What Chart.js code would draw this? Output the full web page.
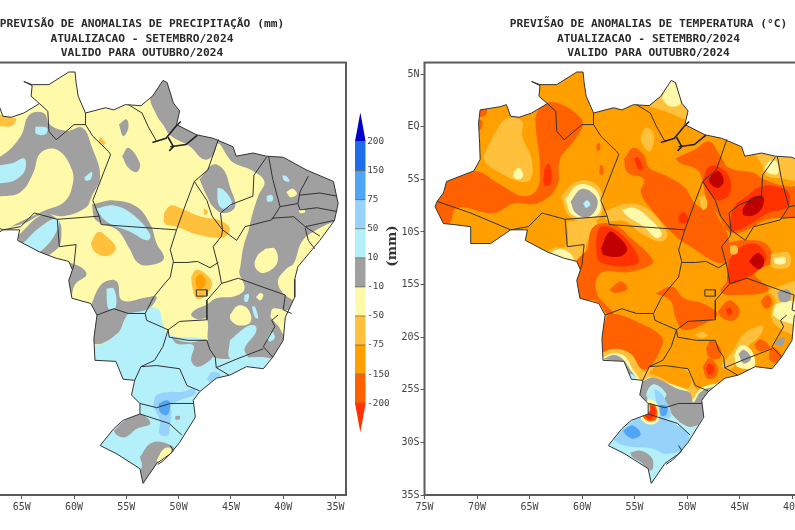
<!DOCTYPE html>
<html><head><meta charset="utf-8">
<script src="https://cdn.jsdelivr.net/npm/chart.js@4/dist/chart.umd.js"></script>
<style>
html,body{margin:0;padding:0;background:#fff;overflow:hidden;width:795px;height:530px}
canvas{position:absolute;filter:blur(0.55px)}
#wrap{position:absolute;left:0;top:0;width:795px;height:530px;overflow:hidden}
.box{position:absolute}
</style></head><body>
<div id="wrap">
<div class="box" style="left:-62px;top:0;width:412px;height:530px"><canvas id="cL"></canvas></div>
<div class="box" style="left:400px;top:0;width:497px;height:530px"><canvas id="cR"></canvas></div>
<div class="box" style="left:350px;top:100px;width:50px;height:345px"><canvas id="cB"></canvas></div>
</div>
<script>
// ---------- text ----------
const precipTitle = ['PREVISÃO DE ANOMALIAS DE PRECIPITAÇÃO (mm)','ATUALIZACAO - SETEMBRO/2024','VALIDO PARA OUTUBRO/2024'];
const tempTitle = ['PREVIS\u0303AO DE ANOMALIAS DE TEMPERATURA (°C)','ATUALIZACAO - SETEMBRO/2024','VALIDO PARA OUTUBRO/2024'];
const lonTicks = [-75,-70,-65,-60,-55,-50,-45,-40,-35];
const lonTickLabels = ['75W','70W','65W','60W','55W','50W','45W','40W','35W'];
const latTicks = [5,0,-5,-10,-15,-20,-25,-30,-35];
const latTickLabels = ['5N','EQ','5S','10S','15S','20S','25S','30S','35S'];
const barLevels = ['-200','-150','-75','-50','-10','10','50','75','150','200'];
const barUnit = '(mm)';

// ---------- palette ----------
const cBlue4='#1E6EEB',cBlue3='#50A5F5',cBlue2='#96D2FA',cBlue1='#B4F0FA',cGray='#A0A0A0',cYel='#FFFAAA',cLt='#FFC03C',cOr='#FFA000',cRed1='#FF6000',cRed2='#FF3200',cRed3='#E11400',cDark='#C00000',cNavy='#0000C8';
const barColors=[cRed2,cRed1,cOr,cLt,cYel,cGray,cBlue1,cBlue2,cBlue3,cBlue4];

// ---------- geography (lon, lat) ----------
const extent=[[-80,10],[-25,10],[-25,-40],[-80,-40]];
const brazil=[[-69.7,1.6],[-67.8,1.9],[-67.2,2.1],[-66.8,1],[-66,0.9],[-64.8,1.3],[-63.3,2.2],[-64.1,2.9],[-64,3.9],[-64.8,4.3],[-64,4],[-62.4,4],[-60.5,5.2],[-59.9,5.2],[-59.8,4.2],[-59.6,2.9],[-58.9,1.3],[-57,1.8],[-56.2,1.6],[-55.1,2.1],[-53.6,2],[-52.5,2.9],[-51.5,4.4],[-51.1,4.2],[-50.5,2.25],[-49.9,1.5],[-50.2,0.2],[-48.3,-0.76],[-46.7,-1.1],[-44.8,-1.9],[-44.5,-2.8],[-42.9,-2.5],[-41.6,-2.8],[-40,-2.9],[-37.8,-4.1],[-35.2,-5.2],[-34.75,-7.3],[-35.1,-8.9],[-36.5,-10.8],[-37.5,-12],[-38.6,-13.3],[-38.9,-14.5],[-38.9,-16.2],[-39.8,-18.1],[-40,-20.3],[-41,-21.9],[-41.9,-23],[-43.5,-22.8],[-45.1,-23.6],[-46.4,-23.9],[-48,-25.2],[-48.6,-26],[-48.4,-27.6],[-49.9,-30],[-50.8,-31.1],[-52.1,-32],[-53.4,-33.9],[-53.7,-32.5],[-55.9,-31.1],[-57.5,-30.3],[-56.2,-28.7],[-55.3,-27.9],[-53.7,-27.3],[-53.7,-26.3],[-54.5,-25.5],[-54.2,-24.1],[-55.3,-24],[-56,-22.3],[-58,-22.2],[-58.1,-20.1],[-57.8,-17.9],[-58.4,-16.8],[-60.2,-16.3],[-60.5,-14.6],[-60.15,-13.6],[-60.5,-12.8],[-61.7,-12.5],[-63.3,-11.9],[-65.4,-10.8],[-65.2,-9.8],[-66.8,-9.8],[-68.7,-11.1],[-70.6,-11.1],[-70.6,-9.5],[-72.2,-9.3],[-73.2,-9.2],[-74,-7.6],[-73.8,-7.1],[-73.2,-6.3],[-72.9,-5.2],[-70.3,-4.2],[-69.7,-3.1],[-69.75,-1.6],[-69.85,0.35]];
const lineRR=[[-63.3,2.2],[-62.5,1.46],[-62.4,-0.44],[-61.7,-1.24],[-60,0.2],[-58.9,0.2],[-58.9,1.3]];
const lineAMPA=[[-58.9,0.2],[-58.2,-0.9],[-56.7,-2.35],[-56.5,-2.65],[-58.2,-7],[-57.6,-8.5],[-57.4,-9.3],[-50.2,-9.8]];
const lineAMS=[[-57.6,-8.5],[-61.6,-8.8],[-63.8,-8.2],[-65.1,-9.5],[-66.8,-9.8],[-70.6,-8.2],[-73.8,-7.1]];
const lineROMT=[[-61.6,-8.8],[-61.4,-11.4],[-59.8,-11.2],[-60,-13.1],[-60.15,-13.6]];
const lineAPPA=[[-54.8,2.1],[-53.5,1.3],[-52.9,0],[-52.1,-1.4]];
const linePAMA=[[-50.2,-9.8],[-49.3,-7.3],[-48.5,-5.2],[-47.2,-4.1],[-46.2,-1.2]];
const lineMATO=[[-48.5,-5.2],[-47.3,-7],[-46.8,-8.5],[-45.8,-9.8],[-45.9,-10.4],[-46.7,-11.4],[-46.2,-13.3],[-45.9,-14.9],[-47.3,-16.5],[-47.3,-18.35]];
const lineMAPI=[[-45.8,-9.8],[-46,-8.2],[-45,-7.4],[-42.9,-6.6],[-42.8,-4.6],[-41.6,-2.9]];
const lineBAPI=[[-45.8,-9.8],[-44.45,-10.8],[-43.65,-9.5],[-41.1,-8.85],[-40.3,-7.6],[-41,-5],[-41.4,-2.8]];
const lineCE=[[-37.6,-4.7],[-38.4,-6.2],[-38.6,-7.3],[-40.3,-7.6]];
const lineRN=[[-38.4,-6.5],[-36.5,-6.3],[-34.85,-6.6]];
const linePB=[[-38.6,-7.3],[-38.4,-7.9],[-36.8,-7.7],[-34.85,-8.06]];
const linePE=[[-41.1,-8.7],[-39,-8.55],[-37.9,-9.5],[-36.5,-9.2],[-35.1,-8.9]];
const lineAL=[[-37.9,-9.5],[-36.5,-10.4]];
const lineSE=[[-37.9,-9.65],[-37.6,-10.8],[-37,-11.6]];
const lineTOMT=[[-50.2,-9.8],[-50.8,-11.7],[-50.5,-12.8],[-50.8,-14.3],[-51.45,-15.05],[-52.4,-16.2],[-53.2,-17.75],[-53.05,-18.4],[-51,-19.3]];
const lineMTMS=[[-57.8,-17.9],[-56.2,-17.3],[-54.8,-17.75],[-53.2,-17.75]];
const lineGOTO=[[-50.5,-12.9],[-49.2,-12.9],[-48.2,-12.8],[-47,-13.4],[-46.2,-12.9]];
const lineGOMG=[[-51,-19.3],[-49.9,-18.5],[-47.3,-18.35]];
const lineDF=[[-48.3,-15.5],[-47.3,-15.5],[-47.3,-16.1],[-48.3,-16.1],[-48.3,-15.5]];
const lineBAMG=[[-45.9,-14.9],[-44.3,-14.4],[-42.9,-14.9],[-39.8,-16],[-40,-17.4],[-39.2,-17.75]];
const lineMGES=[[-40.5,-17.9],[-41.1,-18.4],[-40.8,-19],[-41.9,-20.9],[-41,-21.9]];
const lineMGRJ=[[-41.9,-21.1],[-44.5,-22.1],[-46.4,-22.9],[-45.2,-23.6]];
const lineMGSP=[[-51,-19.3],[-50.9,-20],[-49.1,-20.3],[-47.3,-20.3],[-47,-21.2],[-46.5,-21.9],[-46.4,-22.9]];
const lineMSSP=[[-51,-19.3],[-51.5,-20.9],[-52.3,-22.2],[-53.6,-22.8],[-54.2,-24.1]];
const linePRSP=[[-53.6,-22.8],[-52.1,-22.7],[-49.9,-23],[-49.2,-24.6],[-48,-25.1]];
const linePRSC=[[-53.7,-26.3],[-52.1,-26.7],[-50.8,-26.3],[-48.6,-26.3]];
const lineSCRS=[[-53.7,-27.3],[-50.9,-28.2],[-49.7,-29.3]];
const lineEstuary1=[[-52.5,-1.5],[-51.2,-1.1],[-50.3,0],[-49.8,0.5]];
const lineEstuary2=[[-50.8,-1.9],[-49.3,-1.7],[-48.2,-0.8]];
const lineEstuary3=[[-51,-1],[-50.5,-1.9],[-50.9,-2.3]];
const lineLagoon=[[-50.8,-30.3],[-50.5,-30.8],[-51.4,-31.7],[-52,-32.1]];
const stateLines=[lineRR,lineAMPA,lineAMS,lineROMT,lineAPPA,linePAMA,lineMATO,lineMAPI,lineBAPI,lineCE,lineRN,linePB,linePE,lineAL,lineSE,lineTOMT,lineMTMS,lineGOTO,lineGOMG,lineDF,lineBAMG,lineMGES,lineMGRJ,lineMGSP,lineMSSP,linePRSP,linePRSC,lineSCRS,lineLagoon];
const coastDetail=[lineEstuary1,lineEstuary2,lineEstuary3];

// ---------- precipitation contours ----------
const pSouthBlue=[[-66,-21],[-58.4,-20.9],[-55.9,-19.7],[-55.1,-18.2],[-54.8,-17.4],[-53.7,-17.3],[-52.9,-17.1],[-51.9,-17.4],[-51.5,-18.7],[-50.8,-19.8],[-47.3,-20.3],[-46.7,-21.9],[-41.6,-21.9],[-41,-22.2],[-38,-24],[-38,-35],[-60,-35]];
const pGrayNorth=[[-51.5,6],[-52.7,2.9],[-52.1,1.1],[-51.5,0.2],[-50.8,-0.8],[-48.9,-1.9],[-47.6,-3.1],[-46.7,-2.7],[-46.2,-1.6],[-45.4,-2.7],[-44.8,-3.4],[-42.9,-4.2],[-41.8,-5.2],[-42.4,-6.6],[-43,-8.5],[-43.3,-9.8],[-43.8,-11.4],[-44.1,-13.3],[-44.2,-13.9],[-43.7,-15.4],[-44.6,-16.1],[-46.4,-16.3],[-47.3,-16.9],[-48.4,-17.4],[-48.8,-17.9],[-48.2,-18.3],[-47.3,-18.3],[-47.2,-20.3],[-46.7,-21.9],[-41,-22.1],[-41.5,-24],[-33,-24],[-33,6]];
const pGrayWest=[[-71,-4.5],[-67,-2.8],[-65.1,-0.9],[-64.3,1.1],[-62.9,1.3],[-62.3,0.2],[-60.7,-0.4],[-59.2,-0.1],[-58.3,-1.9],[-57.5,-4.7],[-58.3,-6.6],[-58.9,-7.7],[-61,-8.5],[-62.9,-8.3],[-65.1,-9.3],[-71,-10]];
const pYelWest=[[-73,-6.6],[-67,-6.6],[-65.1,-6.2],[-63.9,-4.4],[-63.2,-2.5],[-61.6,-2.2],[-60.2,-4.1],[-60.2,-5.8],[-61,-7.2],[-62.9,-8],[-65.1,-9],[-67,-9.9],[-73,-11]];
const pGrayLobe=[[-65.4,-10.4],[-62.9,-8.3],[-61.5,-8.9],[-61.2,-10.1],[-61.6,-11.6],[-63.6,-12.5],[-64.8,-11.9]];
const pGrayRO=[[-62.3,-12.7],[-59.9,-13.1],[-58.8,-14],[-59.9,-15],[-60.4,-16.3],[-61.5,-15]];
const pGrayArm=[[-58.3,-7.4],[-56.2,-7],[-54,-7.6],[-52.7,-9.3],[-52.1,-11.1],[-51.4,-12.5],[-52.4,-13.1],[-53.8,-13],[-54.8,-11.4],[-55.9,-9.8],[-57.9,-8.9]];
const pGrayMA=[[-48,-5],[-46.7,-3.6],[-45.7,-4.1],[-45.1,-5.7],[-44.6,-7.6],[-45.7,-8.2],[-46.7,-7.6],[-47.3,-6.6]];
const pGrayBlobA=[[-55.7,0.2],[-55,0.7],[-54.8,-0.1],[-55.3,-0.9]];
const pGrayBlobB=[[-55.4,-2.8],[-54.8,-2],[-53.7,-3.5],[-54,-4.3],[-54.8,-3.9]];
const pGrayMS=[[-58.3,-16.8],[-57.7,-15.4],[-57,-14.7],[-55.9,-14.7],[-55.4,-16.5],[-53,-16.2],[-52.1,-16.2],[-52.9,-17.3],[-54.8,-17.8],[-55.1,-18.2],[-55.9,-19.7],[-58.1,-20.6],[-59,-18]];
const pGraySP=[[-50.8,-19.7],[-50.5,-20.1],[-48.9,-20.5],[-47.2,-20.3],[-46.7,-21.7],[-47.4,-22.5],[-48.3,-22.8],[-48.8,-22.2],[-48.6,-20.8],[-50.2,-20.6]];
const pGrayRSW=[[-56.2,-28.9],[-55.1,-27.9],[-53.7,-27.3],[-52.7,-28.2],[-54,-28.7],[-55.1,-29.5],[-55.9,-29.3]];
const pGrayRSE=[[-53.7,-31.4],[-52.7,-30.1],[-51.4,-30],[-50.3,-30.8],[-51.4,-32.2],[-52.4,-32.7],[-53,-34],[-53.8,-33.3],[-53.5,-32.2]];
const pGrayDotA=[[-50.3,-27.5],[-49.9,-27.5],[-49.9,-27.8],[-50.3,-27.8]];
const pYelCoast=[[-35.2,-9],[-36.8,-9.8],[-38.2,-10.9],[-39,-13],[-39.7,-13.5],[-40.5,-14.7],[-39.8,-16],[-38.3,-16.6],[-36,-16],[-34,-9.5]];
const pYelES=[[-41.2,-17.9],[-41,-17.3],[-40,-17.4],[-39,-17.6],[-38.6,-18.7],[-39.8,-19.8],[-40.5,-18.9],[-41.2,-18.1]];
const pYelBA=[[-41.7,-11.6],[-40.8,-11.6],[-40.6,-13],[-41.9,-13.9],[-42.7,-13.3],[-42.5,-12.3]];
const pYelMG=[[-45.1,-17.9],[-44.3,-17],[-43.4,-17.3],[-43.1,-18.5],[-44.2,-18.9],[-45,-18.4]];
const pYelDotA=[[-42.6,-16.2],[-42.2,-15.8],[-41.9,-16],[-42.2,-16.5]];
const pYelDotB=[[-39.7,-6.2],[-39.1,-5.9],[-38.7,-6.4],[-39.3,-6.7]];
const pYelDotC=[[-38.5,-7.9],[-38.1,-7.8],[-37.9,-8.1],[-38.4,-8.2]];
const pYelLagoon=[[-52.1,-31.7],[-51.4,-30.6],[-50.7,-30.6],[-51,-31.4],[-51.8,-32]];
const pBlueW=[[-70,-4],[-66,-3.5],[-64.8,-3],[-64.6,-3.8],[-65.1,-4.7],[-66.4,-5.3],[-70,-5.3]];
const pBlueDotA=[[-63.7,0],[-62.6,-0.1],[-62.7,-0.7],[-63.6,-0.7]];
const pBlueDotB=[[-59,-4.8],[-58.3,-4.3],[-58.4,-5],[-58.9,-5.1]];
const pBlueLobe=[[-65,-11.2],[-63.2,-9.5],[-61.6,-8.7],[-61.6,-9.8],[-62.9,-11.6],[-64.2,-12.2]];
const pBlueArm=[[-57.9,-7.8],[-56.1,-7.5],[-54.3,-8.4],[-52.7,-10.3],[-53,-10.8],[-54.6,-10],[-56.9,-9]];
const pBlueMA=[[-46.3,-5.8],[-45.7,-6],[-44.9,-7.3],[-45.7,-7.8],[-46.2,-7.3]];
const pBlueDotC=[[-40.1,-4.6],[-39.7,-4.7],[-39.4,-5.2],[-39.9,-5.1]];
const pBlueDotD=[[-41.6,-6.6],[-41.1,-6.5],[-41,-7],[-41.5,-7.1]];
const pBlueDotE=[[-43.7,-16],[-43.3,-15.9],[-43.4,-16.6],[-43.7,-16.6]];
const pBlueDotF=[[-43,-17.1],[-42.7,-17.1],[-42.4,-18.2],[-42.7,-18.1]];
const pBlueDotG=[[-41.6,-20.2],[-41.1,-19.5],[-40.8,-20],[-41.2,-20.4]];
const pBlueTongue=[[-45.1,-20.3],[-43.5,-19],[-42.7,-18.9],[-42.6,-19.5],[-43.7,-21.1],[-43.4,-22],[-45.1,-22]];
const pBluePlume=[[-56.9,-15.4],[-56.2,-15.4],[-56,-17.1],[-56.7,-17.3]];
const pMidSouth=[[-52.4,-26.2],[-52.1,-25.5],[-50.8,-25.2],[-49.7,-25.2],[-48.6,-24.9],[-48.4,-25.4],[-49.9,-26],[-50.7,-26.5],[-50.7,-27.4],[-50.8,-28.2],[-51,-29.3],[-51.8,-29.2],[-51.8,-27.9],[-52.4,-26.6]];
const pMidSP=[[-47.3,-24],[-46.8,-23.3],[-46,-23.6],[-46.8,-24.3]];
const pDeepSouth=[[-51.9,-26.3],[-51.1,-26],[-50.8,-26.3],[-51.1,-27.4],[-51.8,-27.1]];
const pLtNW=[[-70,1.4],[-65.6,0.8],[-65.8,0.2],[-66.4,0],[-70,0.6]];
const pLtDot=[[-57.5,-0.9],[-57,-1.6],[-57.6,-1.6]];
const pLtBand=[[-51.4,-8.2],[-50.8,-7.5],[-49.9,-7.7],[-48,-8.5],[-46.1,-8.9],[-45.1,-9.7],[-45.7,-10.5],[-48,-10.3],[-50.2,-9.5],[-51.3,-9.2]];
const pLtDotB=[[-47.6,-7.7],[-47.2,-8.1],[-47.5,-8.4]];
const pLtMT=[[-58.4,-11.1],[-57.7,-10],[-56.7,-10.6],[-56,-11.6],[-56.9,-12.3],[-58,-11.9]];
const pLtGO=[[-48.8,-14.3],[-48.3,-13.6],[-47.3,-14.1],[-46.8,-15],[-47.6,-16.2],[-48.3,-16.3],[-48.7,-15.2]];
const pOrGO=[[-48.4,-14.4],[-47.9,-14],[-47.4,-14.7],[-47.8,-15.4],[-48.3,-15.2]];
const precipLayers=[[cYel,extent],[cBlue1,pSouthBlue],[cGray,pGrayNorth],[cGray,pGrayWest],[cYel,pYelWest],[cGray,pGrayLobe],[cGray,pGrayRO],[cGray,pGrayArm],[cGray,pGrayMA],[cGray,pGrayBlobA],[cGray,pGrayBlobB],[cGray,pGrayMS],[cGray,pGraySP],[cGray,pGrayRSW],[cGray,pGrayRSE],[cGray,pGrayDotA],[cYel,pYelCoast],[cYel,pYelES],[cYel,pYelBA],[cYel,pYelMG],[cYel,pYelDotA],[cYel,pYelDotB],[cYel,pYelDotC],[cYel,pYelLagoon],[cBlue1,pBlueW],[cBlue1,pBlueDotA],[cBlue1,pBlueDotB],[cBlue1,pBlueLobe],[cBlue1,pBlueArm],[cBlue1,pBlueMA],[cBlue1,pBlueDotC],[cBlue1,pBlueDotD],[cBlue1,pBlueDotE],[cBlue1,pBlueDotF],[cBlue1,pBlueDotG],[cBlue1,pBlueTongue],[cBlue1,pBluePlume],[cBlue2,pMidSouth],[cBlue2,pMidSP],[cBlue3,pDeepSouth],[cLt,pLtNW],[cLt,pLtDot],[cLt,pLtBand],[cLt,pLtDotB],[cLt,pLtMT],[cLt,pLtGO],[cOr,pOrGO]];

// ---------- temperature contours ----------
const tWestRed=[[-74.5,-7.3],[-73.2,-6.3],[-72.9,-5.2],[-70.2,-4.2],[-67.8,-5.5],[-65.6,-6.6],[-64.3,-6],[-64,-3.8],[-64.4,0],[-64.3,1.3],[-63.3,2.3],[-61.7,2],[-60.3,1],[-59.9,0.2],[-60.8,-1.4],[-62.1,-3.1],[-62.4,-5.7],[-64.3,-7.3],[-66.5,-7.3],[-68.4,-8.2],[-71.9,-7.7],[-72.6,-9.2],[-73.5,-9.5]];
const tNWa=[[-70,1.8],[-69.1,1.7],[-69.2,1.1],[-70,1]];
const tNWb=[[-70.1,0.7],[-69.5,0.5],[-69.7,-0.3],[-70.1,-0.3]];
const tWestSpot=[[-63.6,-4.1],[-63.2,-3.5],[-62.9,-4.4],[-63,-5.5],[-63.6,-5.5]];
const tWestLt=[[-69.4,-2.8],[-68.1,-0.3],[-67.1,0.8],[-65.7,0.5],[-65.7,-0.9],[-64.8,-3.1],[-64.9,-5],[-65.9,-5.2],[-67.8,-4.4],[-69.1,-3.5]];
const tWestYel=[[-66.5,-4.3],[-66,-3.9],[-65.6,-4.6],[-66,-5],[-66.5,-4.8]];
const tRingLt=[[-62,-6.6],[-60.5,-5.2],[-58.6,-5.5],[-58,-7.3],[-58.6,-8.9],[-61.1,-8.6]];
const tRingYel=[[-61.6,-6.9],[-60.3,-5.5],[-58.7,-6],[-58.2,-7.6],[-58.7,-8.5],[-60.9,-8.4]];
const tRingGray=[[-61.1,-7.1],[-60,-5.9],[-58.7,-6.6],[-58.6,-7.7],[-59.5,-8.6],[-60.6,-8.2]];
const tRingBlue=[[-59.9,-7.3],[-59.5,-7],[-59.2,-7.4],[-59.6,-7.7]];
const tStreakLt=[[-57.8,-8],[-55.4,-7.3],[-53.5,-8],[-51.9,-10.1],[-52.4,-10.9],[-54.1,-10.3],[-55.9,-9],[-57.6,-8.9]];
const tStreakYel=[[-56.2,-7.9],[-55.1,-7.7],[-53.8,-8.5],[-52.4,-10.1],[-52.9,-10.6],[-54.1,-9.5],[-55.7,-8.5]];
const tAmapaLt=[[-53.6,1.9],[-52.5,3],[-51.6,4.6],[-50.6,3],[-49.7,1.6],[-50,0.7],[-50.9,1],[-52.2,1.5]];
const tAmapaYel=[[-52.4,2.7],[-51.4,4.6],[-51,3.8],[-50.6,2.3],[-51.2,1.9],[-51.9,2.1]];
const tOvalLt=[[-54.4,-0.9],[-53.9,-0.1],[-53.2,-0.6],[-53.2,-1.7],[-53.6,-2.35],[-54.3,-1.6]];
const tBand=[[-56,-3.1],[-55.1,-2],[-54.1,-2.7],[-53.6,-3.9],[-51.9,-4.7],[-50.3,-5.7],[-49.2,-7.3],[-48.5,-7.7],[-48.1,-7],[-47.1,-8.5],[-46,-10.8],[-46.5,-13],[-50,-11.2],[-51.4,-10.1],[-53.1,-8.2],[-54.4,-6.3],[-54.1,-5],[-55.7,-4.3]];
const tBandA=[[-55.05,-3],[-54.7,-2.9],[-54.2,-3.9],[-54.6,-4.1]];
const tBandB=[[-50.8,-8.5],[-50.3,-8.1],[-49.9,-9],[-50.7,-9.1]];
const tSpeckA=[[-58.6,-1.6],[-58.3,-1.6],[-58.3,-2.2],[-58.6,-2.2]];
const tSpeckB=[[-58.3,-3.7],[-58,-3.7],[-58,-4.5],[-58.3,-4.5]];
const tTOLt=[[-48.9,-6.7],[-48.2,-6.6],[-48.1,-7.6],[-48.5,-7.9]];
const tNERed=[[-51.1,-3],[-49.3,-2.2],[-47.9,-1.4],[-46.8,-2.8],[-46,-3.9],[-43.6,-4.4],[-42.7,-5],[-40.4,-5.7],[-39,-5.7],[-39,-8.3],[-42.3,-8.8],[-44.5,-9.9],[-46,-10],[-47,-8.4],[-48.1,-7],[-48.5,-5.2],[-49,-4.1],[-50.6,-3.5]];
const tNERedA=[[-48.5,-5.2],[-47.9,-3.8],[-46.8,-3.9],[-45.9,-5],[-46,-6.5],[-47.1,-7],[-48.1,-6]];
const tNEDarkA=[[-47.7,-4.6],[-47,-4.2],[-46.5,-5.2],[-47.1,-5.8],[-47.9,-5.2]];
const tPIRed=[[-46,-9.5],[-45.5,-7.6],[-44.3,-6.6],[-43,-5.7],[-41.4,-5.7],[-40.3,-6.3],[-40.4,-7.6],[-42.3,-8.2],[-43.9,-9.2],[-45.5,-9.9]];
const tPIDark=[[-44.7,-7.8],[-43.9,-6.8],[-42.8,-6.6],[-42.8,-7.6],[-43.6,-8.4],[-44.6,-8.4]];
const tCELt=[[-43.6,-2.5],[-41,-2.5],[-39,-3],[-39,-5],[-41,-4.9],[-42.5,-4.6],[-42.9,-3.6]];
const tCEYel=[[-42.6,-3.8],[-42,-3.2],[-41.4,-3.4],[-41.4,-4.5],[-42.4,-4.3]];
const tBARed=[[-46.3,-11.1],[-44.6,-10.8],[-42.5,-11.1],[-41.9,-12.8],[-43.6,-13.9],[-42.2,-15.5],[-44.9,-16],[-46.8,-15.7],[-46,-14.3],[-46.3,-12.8]];
const tBARedB=[[-46,-12.7],[-45.2,-11.7],[-43.9,-11.1],[-42.8,-11.6],[-42.5,-12.8],[-43.9,-14.1],[-46,-14.9]];
const tBADark=[[-44.1,-12.8],[-43.3,-12],[-42.7,-12.5],[-42.8,-13.3],[-43.3,-13.5]];
const tBALt=[[-45.9,-11.3],[-45.3,-11.3],[-45.2,-12],[-45.8,-12.1]];
const tBAYelLt=[[-42,-12.1],[-40.3,-12],[-40.3,-13.3],[-41.9,-13.3]];
const tBAYel=[[-41.7,-12.5],[-40.7,-12.4],[-40.7,-13],[-41.6,-13]];
const tMTLt=[[-61.4,-9],[-58.6,-9],[-59,-10],[-59.6,-11.2],[-59.9,-12.8],[-61,-13],[-63.5,-12.5],[-62.9,-11.6],[-61.5,-11.3]];
const tMTYel=[[-63.3,-12.2],[-62,-11.6],[-60.8,-12.5],[-61.4,-13.1]];
const tMT=[[-59.5,-11.7],[-58.9,-9.5],[-57,-9.3],[-55.1,-10.8],[-53.5,-12.3],[-53.3,-13],[-55.4,-13.8],[-58.2,-13.9],[-58.6,-15.8],[-57,-17.75],[-57.5,-17.9],[-58.6,-16.6],[-60.2,-16.3],[-61.4,-14.6],[-60.8,-13.1]];
const tMTB=[[-58.7,-11.1],[-58.3,-9.6],[-57,-9.7],[-55.2,-11.4],[-54.7,-13],[-58.2,-12.9]];
const tMTDark=[[-58.2,-11.6],[-57.4,-10],[-56.6,-10.4],[-55.7,-11.6],[-56.3,-12.3],[-57.9,-12.2]];
const tMTSmall=[[-57.4,-15.5],[-56.3,-14.7],[-55.7,-15.4],[-56.8,-15.8]];
const tMS=[[-57.9,-18.7],[-57.3,-17.75],[-54.4,-18.7],[-52.4,-20],[-52.5,-21.1],[-53.8,-23],[-55.1,-22.5],[-56.3,-21.2],[-57.9,-21.4],[-58.1,-20.3]];
const tGO=[[-53,-15.85],[-51.4,-15.2],[-50.3,-16.3],[-48.5,-16.8],[-47.1,-17.75],[-47.7,-18.4],[-50.3,-19.3],[-51.1,-18.1],[-51.6,-16.5]];
const tMGSpot=[[-47.1,-17.6],[-46,-16.5],[-45,-17.4],[-45.5,-18.4],[-46.6,-18.2]];
const tMGSpotB=[[-46.3,-17.3],[-45.9,-17.2],[-45.7,-17.7],[-46.1,-17.9]];
const tSPSpot=[[-48.5,-22.8],[-47.9,-22],[-47.1,-22.8],[-47.3,-23.8],[-48.1,-23.9]];
const tSPSpotB=[[-48.2,-23],[-47.9,-22.5],[-47.4,-23],[-47.9,-23.6]];
const tSPRed=[[-48.2,-21.1],[-47.7,-20.3],[-46.8,-21.1],[-46.9,-22],[-47.9,-21.9]];
const tMGSmall=[[-43,-16.6],[-42.3,-16],[-41.9,-16.8],[-42.5,-17.3]];
const tMGSmallB=[[-43.6,-20.7],[-43,-20.2],[-42.1,-21],[-43.2,-21.3]];
const tESRed=[[-42.2,-21.6],[-41.9,-20.9],[-41,-21.7],[-41.4,-22.4],[-42.1,-22.2]];
const tOvalGO=[[-49.3,-19.8],[-48.6,-19.5],[-48,-19.8],[-48.6,-20.1]];
const tMGLt=[[-46.8,-22.8],[-45.5,-21.1],[-44.6,-19.7],[-42.8,-18.9],[-43,-19.8],[-44.2,-20.9],[-45.2,-22.2],[-45.8,-23]];
const tRJYel=[[-45.5,-21.7],[-44.9,-20.8],[-43.9,-21.2],[-43.6,-22.8],[-45.2,-22.8]];
const tRJGray=[[-45.1,-21.6],[-44.6,-21.2],[-43.9,-22],[-44.6,-22.5]];
const tESLt=[[-42.3,-15.5],[-39,-14.9],[-39,-19.7],[-41.4,-19],[-42,-17.75],[-41.6,-16.5]];
const tESYel=[[-41.85,-17.9],[-41.4,-16.8],[-39,-16.8],[-39,-18.7],[-41.1,-18.4]];
const tESGray=[[-41.4,-15.7],[-40.3,-15.5],[-40.2,-16.5],[-41.1,-16.6]];
const tESGrayB=[[-41.6,-20.4],[-40.75,-20],[-40.9,-20.8],[-41.6,-20.7]];
const tSouthLt=[[-58.24,-21.56],[-56.97,-21.1],[-55.4,-21.56],[-54.42,-23],[-53.95,-23.3],[-53.15,-22.67],[-50.9,-22.83],[-49.8,-23.15],[-49.15,-24.9],[-47.6,-24.73],[-45.5,-23.8],[-41.4,-22.83],[-39,-22.5],[-39,-35],[-60,-35],[-60,-24]];
const tPR=[[-53.6,-23.46],[-53,-22.83],[-50.9,-22.9],[-49.9,-23.3],[-49.6,-24.26],[-50,-24.9],[-51.25,-24.5],[-52.5,-23.85]];
const tSouthYel=[[-58.1,-21.95],[-56.97,-21.5],[-55.95,-21.8],[-55.06,-23.2],[-54.26,-24.1],[-53.6,-23.8],[-52.5,-24.16],[-50.9,-24.67],[-49.9,-25.1],[-49.6,-26],[-49,-25.2],[-48.5,-24.73],[-46.8,-24.35],[-41.4,-23.8],[-39,-23.5],[-39,-35],[-60,-35],[-60,-25]];
const tGrayMS=[[-58,-22.1],[-56.97,-21.7],[-56.1,-22.1],[-55.4,-23.1],[-54.9,-23.85],[-55.7,-23.8],[-56.1,-22.8],[-56.97,-22.25]];
const tTipBlue=[[-55.7,-23.5],[-55.06,-23.6],[-54.9,-24.1],[-55.5,-24.05]];
const tGrayS=[[-54.4,-24.26],[-53.15,-23.85],[-50.9,-24.9],[-49.7,-25.3],[-49.4,-26.2],[-48.7,-25.2],[-47.4,-24.73],[-45,-25],[-45,-28],[-47.4,-27.9],[-49,-28.4],[-49.97,-28.5],[-51.4,-27.4],[-51.7,-26.64],[-52.2,-26],[-52,-25.37],[-53.15,-24.5],[-53.85,-25.37],[-53.6,-26],[-54.6,-25.85]];
const tRSBlue=[[-53.6,-26.1],[-53.85,-25.37],[-53.15,-24.5],[-52,-25.37],[-52.2,-26],[-51.7,-26.64],[-51.4,-27.4],[-49.97,-28.5],[-49,-28.4],[-48.4,-27.6],[-47,-28.5],[-47,-35],[-58,-35],[-59,-30],[-56,-27.5],[-55,-27.1],[-53.9,-27]];
const tRSMid=[[-56.97,-29.8],[-55.7,-28.4],[-54.42,-27.65],[-52.7,-27.6],[-51.25,-28.2],[-49.9,-29.2],[-50,-30.4],[-51.9,-31.1],[-53.3,-30.6],[-55,-30.45],[-56.3,-30.2]];
const tSCMid=[[-53.15,-24.9],[-52.4,-25.4],[-51.7,-26.8],[-51.6,-27.6],[-52.7,-27.6],[-52.9,-26.3]];
const tRSDeep=[[-56.1,-28.9],[-55.2,-28.4],[-54.4,-29.2],[-55.1,-29.65],[-55.7,-29.4]];
const tSCDeep=[[-52.6,-26.4],[-51.9,-26.6],[-52,-27.4],[-52.5,-27.4]];
const tRSGray=[[-55.4,-30.95],[-54.4,-30.8],[-53.3,-31.55],[-53.4,-32.67],[-54.4,-31.9],[-55.2,-31.4]];
const tHotYel=[[-53.8,-25.85],[-52.9,-26.25],[-52.7,-27.9],[-53.6,-28.3],[-54.4,-27.65],[-53.6,-26.95]];
const tHotRed=[[-53.6,-26.25],[-53,-26.5],[-52.9,-27.75],[-53.6,-28],[-54.2,-27.5],[-53.6,-27.1]];
const tHotCore=[[-53.5,-26.5],[-53.1,-26.64],[-53.1,-27.5],[-53.6,-27.8],[-54,-27.4],[-53.5,-27]];
const tempLayers=[[cOr,extent],[cRed1,tWestRed],[cRed1,tNWa],[cRed1,tNWb],[cRed2,tWestSpot],[cLt,tWestLt],[cYel,tWestYel],[cLt,tRingLt],[cYel,tRingYel],[cGray,tRingGray],[cBlue1,tRingBlue],[cLt,tMTLt],[cYel,tMTYel],[cRed1,tBand],[cRed2,tBandA],[cRed2,tBandB],[cRed1,tSpeckA],[cRed1,tSpeckB],[cLt,tTOLt],[cLt,tStreakLt],[cYel,tStreakYel],[cLt,tAmapaLt],[cYel,tAmapaYel],[cLt,tOvalLt],[cRed1,tNERed],[cRed2,tNERedA],[cDark,tNEDarkA],[cRed2,tPIRed],[cDark,tPIDark],[cLt,tCELt],[cYel,tCEYel],[cRed1,tBARed],[cRed2,tBARedB],[cDark,tBADark],[cLt,tBALt],[cLt,tBAYelLt],[cYel,tBAYel],[cRed1,tMT],[cRed2,tMTB],[cDark,tMTDark],[cRed1,tMTSmall],[cRed1,tMS],[cRed1,tGO],[cRed1,tMGSpot],[cRed2,tMGSpotB],[cRed1,tSPRed],[cRed1,tMGSmall],[cRed1,tMGSmallB],[cRed1,tESRed],[cLt,tOvalGO],[cLt,tMGLt],[cLt,tESLt],[cYel,tESYel],[cGray,tESGray],[cGray,tESGrayB],[cLt,tSouthLt],[cOr,tPR],[cRed1,tSPSpot],[cRed2,tSPSpotB],[cYel,tSouthYel],[cYel,tRJYel],[cGray,tRJGray],[cGray,tGrayMS],[cBlue1,tTipBlue],[cGray,tGrayS],[cBlue1,tRSBlue],[cBlue2,tRSMid],[cBlue2,tSCMid],[cBlue3,tRSDeep],[cBlue3,tSCDeep],[cGray,tRSGray],[cYel,tHotYel],[cRed1,tHotRed],[cRed2,tHotCore]];

// ---------- builders ----------
const INK='#333333', AXIS='#5a5a5a', TXT='#444444';
function area(p){let s=0;p.forEach((a,i)=>{const b=p[(i+1)%p.length];s+=a[0]*b[1]-b[0]*a[1];});return s/2;}
function buildMask(){
  const out=area(extent)>0?1:-1;
  const inner=(area(brazil)>0?1:-1)===out?[...brazil].reverse():[...brazil];
  return [...extent,extent[0],...inner,inner[0],extent[0]];
}
function poly(color,pts,tension){return {data:[...pts,pts[0]],showLine:true,fill:'shape',backgroundColor:color,borderColor:color,borderWidth:0,pointRadius:0,pointHoverRadius:0,tension:tension};}
function stroke(pts,w,col){return {data:pts,showLine:true,fill:false,borderColor:col||INK,borderWidth:w,pointRadius:0,pointHoverRadius:0,tension:0};}
function mapDatasets(layers){
  const ds=layers.map(l=>poly(l[0],l[1],l[1]===extent?0:0.4));
  ds.push(poly('#ffffff',buildMask(),0));
  stateLines.forEach(s=>ds.push(stroke(s,1)));
  coastDetail.forEach(s=>ds.push(stroke(s,1.6,'#222222')));
  ds.push(stroke([...brazil,brazil[0]],1));
  ds.forEach((d,i)=>{d.order=ds.length-i;});
  return ds;
}
const framePlugin={id:'frame',afterDraw(c){const a=c.chartArea,x=c.ctx;x.save();x.strokeStyle=AXIS;x.lineWidth=2;x.strokeRect(a.left,a.top,a.right-a.left,a.bottom-a.top);x.restore();}};
const fixTicks=(vals)=>(s)=>{s.ticks=vals.filter(v=>v>=s.min&&v<=s.max).map(v=>({value:v}));};
const tickFont={family:'"DejaVu Sans Mono"',size:10};
const barFont={family:'"DejaVu Sans Mono"',size:9.3};
function mapChart(id,titleLines,layers,lonMin,lonMax,showY,padRight){
  const canvas=document.getElementById(id);
  return new Chart(canvas,{type:'scatter',data:{datasets:mapDatasets(layers)},plugins:[framePlugin],options:{
    responsive:true,maintainAspectRatio:false,animation:false,events:[],
    layout:{padding:{left:0,right:padRight,top:0,bottom:0}},
    plugins:{legend:{display:false},tooltip:{enabled:false},
      title:{display:true,text:titleLines,color:'#2a2a2a',font:{family:'"DejaVu Sans Mono"',size:11.25,weight:'bold',lineHeight:1.29},padding:{top:17,bottom:2}}},
    scales:{
      x:{type:'linear',min:lonMin,max:lonMax,afterBuildTicks:fixTicks(lonTicks),afterFit(s){s.height=35;},
        grid:{drawOnChartArea:false,drawTicks:true,tickLength:4,color:AXIS},border:{display:false},
        ticks:{font:tickFont,color:TXT,maxRotation:0,autoSkip:false,padding:2,callback:v=>lonTickLabels[lonTicks.indexOf(v)]}},
      y:{type:'linear',min:-35,max:6.1,display:showY,afterBuildTicks:fixTicks(latTicks),afterFit(s){if(showY)s.width=24.5;},
        grid:{drawOnChartArea:false,drawTicks:true,tickLength:4,color:AXIS},border:{display:false},
        ticks:{font:tickFont,color:TXT,autoSkip:false,padding:1,callback:v=>latTickLabels[latTicks.indexOf(v)]}}
    }}});
}
mapChart('cL',precipTitle,precipLayers,-73,-34,false,4);
mapChart('cR',tempTitle,tempLayers,-75,-30,true,0);

// ---------- colour bar ----------
const barIdx=barLevels.map((_,i)=>i);
const barDatasets=[poly(cNavy,[[0,9],[1,9],[0.5,10]],0),poly(cRed2,[[0,0],[1,0],[0.5,-1]],0)];
barColors.slice(1).forEach((c,i)=>barDatasets.push(poly(c,[[0,i],[1,i],[1,i+1],[0,i+1]],0)));
barIdx.forEach(i=>barDatasets.push(stroke([[0,i],[1,i]],1,'rgba(90,80,60,0.65)')));
barDatasets.forEach((d,i)=>{d.order=barDatasets.length-i;});
const unitPlugin={id:'unit',afterDraw(c){const x=c.ctx;x.save();x.translate(42,146);x.rotate(-Math.PI/2);x.font='bold 13.5px "DejaVu Serif"';x.fillStyle='#333';x.textAlign='center';x.textBaseline='middle';x.fillText(barUnit,0,0);x.restore();}};
new Chart(document.getElementById('cB'),{type:'scatter',data:{datasets:barDatasets},plugins:[unitPlugin],options:{
  responsive:true,maintainAspectRatio:false,animation:false,events:[],
  layout:{padding:{left:5,right:0,top:12.4,bottom:12.7}},
  plugins:{legend:{display:false},tooltip:{enabled:false},title:{display:false}},
  scales:{
    x:{type:'linear',min:0,max:1,display:false},
    y:{type:'linear',position:'right',min:-1,max:10,afterBuildTicks:fixTicks(barIdx),afterFit(s){s.width=34.3;},
      grid:{display:false,drawTicks:false,tickLength:0},border:{display:false},
      ticks:{font:barFont,color:TXT,autoSkip:false,padding:1.5,callback:v=>barLevels[v]}}
  }}});
</script>
</body></html>
